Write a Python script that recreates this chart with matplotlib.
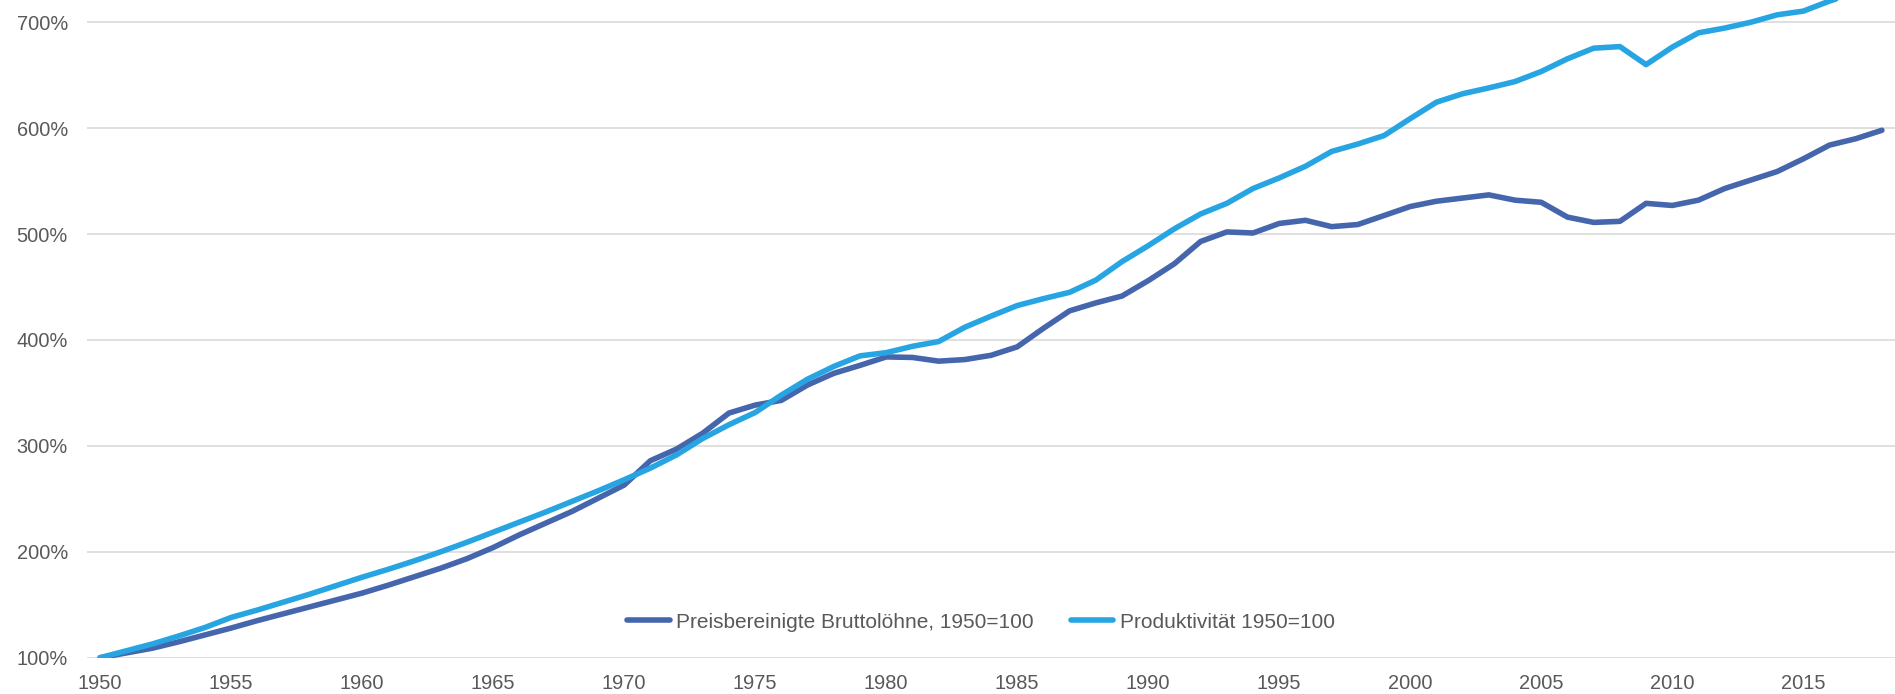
import numpy as np
import matplotlib.pyplot as plt
from matplotlib.ticker import FuncFormatter

# Years 1950..2018
years = list(range(1950, 2019))

# Preisbereinigte Bruttolöhne, 1950=100 (in %)
wages = [
    100, 104.5, 109, 115, 121.5, 128, 135, 141.5, 148, 154.5,
    161, 168.5, 176.5, 184.5, 193.5, 204, 216, 227, 238, 250.5,
    263, 286, 297, 312, 331, 338.5, 343, 357.5, 368.5, 376,
    384, 383.5, 380, 381.5, 385.5, 393.5, 411, 427.5, 435, 441.5,
    456, 472, 493, 502, 501, 510, 513, 507, 509, 517.5,
    526, 531, 534, 537, 532, 530, 516, 511, 512, 529,
    527, 532, 543, 551, 559, 571, 584, 590, 598,
]

# Produktivität 1950=100 (in %)
productivity = [
    100, 106.5, 113, 120.5, 128.5, 138, 145, 152.5, 160, 168,
    176, 183.5, 191.5, 200, 209, 218.5, 228, 237.5, 247.5, 257.5,
    268, 279, 291.5, 307, 320, 331.5, 348, 363, 375, 385,
    388, 394, 398.5, 412, 422.5, 432.5, 439, 445, 456.5, 474,
    489, 505, 519, 529, 543, 553, 564, 578, 585, 593,
    609, 624.5, 632.5, 638, 644, 653.5, 665.5, 675.5, 677, 660,
    676.5, 690, 694.5, 700, 707, 710.5, 720, 728, 735,
]

series_labels = ["Preisbereinigte Bruttolöhne, 1950=100", "Produktivität 1950=100"]
y_ticks = [100, 200, 300, 400, 500, 600, 700]
x_ticks = list(range(1950, 2019, 5))

plt.rcParams['font.family'] = ['Liberation Sans', 'DejaVu Sans']
text_color = '#595959'

fig = plt.figure(figsize=(18.95, 6.94), dpi=100)
ax = fig.add_axes([87 / 1895, 36.3 / 694, 1 - 87 / 1895, 1 - 36.3 / 694])

ax.plot(years, wages, color='#4565AC', lw=4, label=series_labels[0],
        solid_capstyle='round', solid_joinstyle='round', zorder=3)
ax.plot(years, productivity, color='#27A4E2', lw=4, label=series_labels[1],
        solid_capstyle='round', solid_joinstyle='round', zorder=3)

ax.set_xlim(1949.5, 2018.5)
ax.set_ylim(100, 721)
ax.set_yticks(y_ticks)
ax.set_xticks(x_ticks)
ax.yaxis.set_major_formatter(FuncFormatter(lambda v, p: f"{v:.0f}%"))

ax.grid(axis='y', color='#D9D9D9', lw=1.2, zorder=0)
ax.set_axisbelow(True)
for s in ax.spines.values():
    s.set_visible(False)
ax.tick_params(axis='both', length=0, labelsize=14.4, colors=text_color)
ax.tick_params(axis='y', pad=13.7)
ax.tick_params(axis='x', pad=12)

leg = ax.legend(loc='center', bbox_to_anchor=(981 / 1895, 72 / 694),
                bbox_transform=fig.transFigure, ncol=2, frameon=False,
                fontsize=15, handlelength=2.03, handletextpad=0.31,
                columnspacing=1.77)
for t in leg.get_texts():
    t.set_color(text_color)

fig.savefig('out.png', dpi=100)
